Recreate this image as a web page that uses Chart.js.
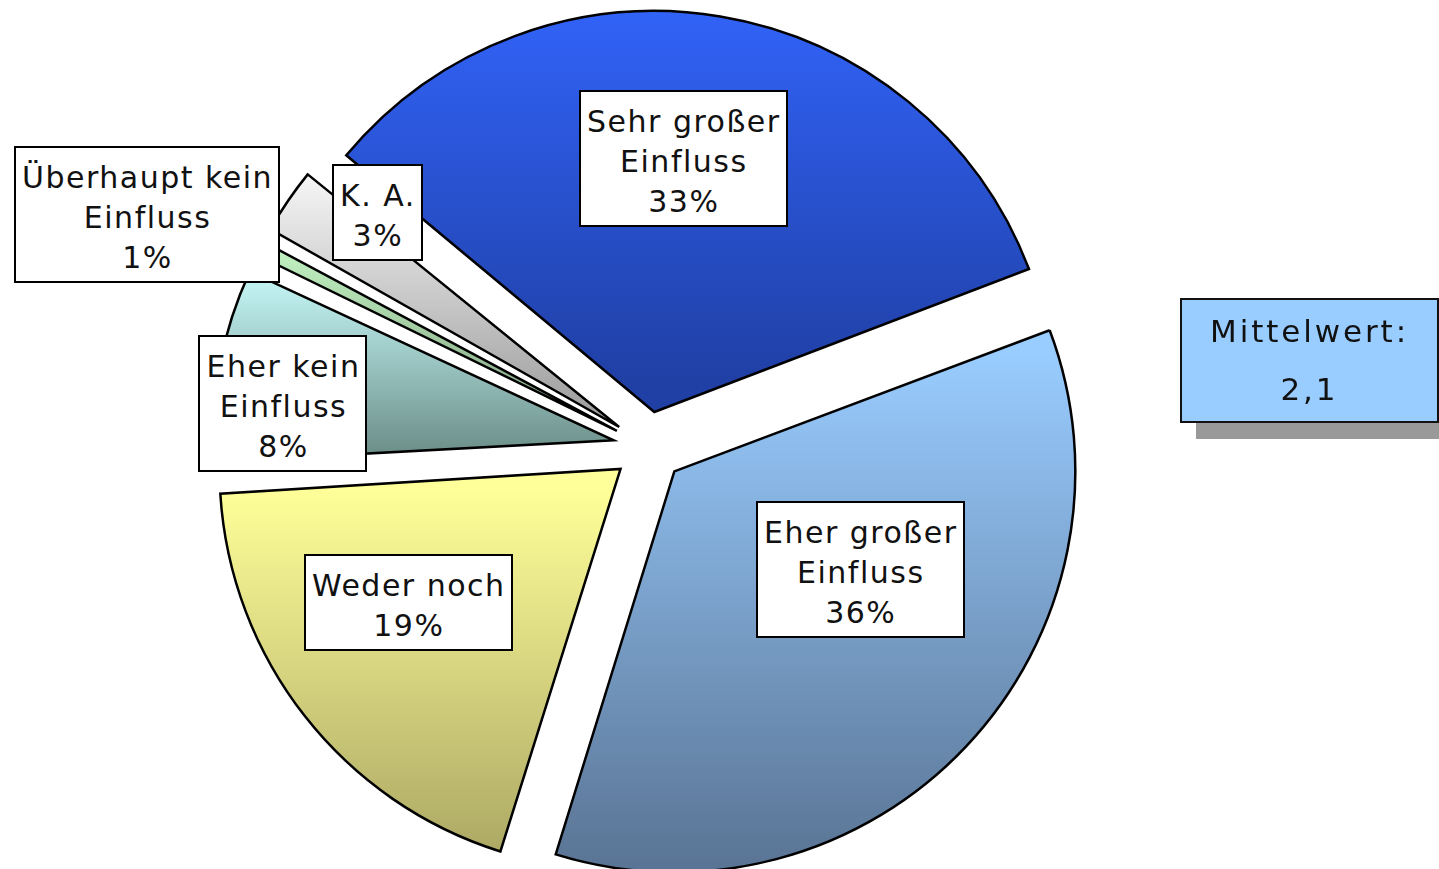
<!DOCTYPE html>
<html lang="de">
<head>
<meta charset="utf-8">
<title>Einfluss</title>
<script src="https://cdn.jsdelivr.net/npm/chart.js@4.4.1/dist/chart.umd.min.js"></script>
<style>
  html, body { margin: 0; padding: 0; background: #fff; overflow: hidden; }
  #wrap { position: relative; width: 1439px; height: 869px; }
  #wrap canvas { position: absolute; left: 0; top: 0; }
  .lbl {
    position: absolute; background: #fff; border: 2px solid #000;
    font-family: "DejaVu Sans", Verdana, sans-serif; font-size: 30px; line-height: 40px;
    letter-spacing: 1.5px; color: #111; text-align: center; padding: 10px 5px 3px 6px;
    white-space: nowrap; box-sizing: border-box;
  }
  #mean {
    position: absolute; left: 1180px; top: 298px; width: 259px; height: 125px;
    box-sizing: border-box; background: #99CCFF; border: 2px solid #111;
    box-shadow: 16px 16px 0 0 #999999;
    font-family: "DejaVu Sans", Verdana, sans-serif; font-size: 31px; line-height: 58px;
    letter-spacing: 2.9px; color: #111; text-align: center; padding-top: 2px;
  }
</style>
</head>
<body>
<div id="wrap"><canvas id="c" width="1439" height="869"></canvas></div>
<script>
// ---- data ----
const categories = ['Sehr großer Einfluss', 'Eher großer Einfluss', 'Weder noch', 'Eher kein Einfluss', 'Überhaupt kein Einfluss', 'K. A.'];
const labelLines = [['Sehr großer', 'Einfluss'], ['Eher großer', 'Einfluss'], ['Weder noch'], ['Eher kein', 'Einfluss'], ['Überhaupt kein', 'Einfluss'], ['K. A.']];
const shares = [33.2, 35.6, 19.2, 8.0, 1.0, 3.0];     // slice sizes
const percentLabels = ['33%', '36%', '19%', '8%', '1%', '3%'];
const meanTitle = 'Mittelwert:';
const meanValue = '2,1';

// ---- style ----
const gradientTop    = ['#3366FF', '#99CCFF', '#FFFF99', '#CCFFFF', '#CCFFCC', '#FFFFFF'];
const gradientBottom = ['#2040A6', '#566F8E', '#A8A462', '#6A8C86', '#84A484', '#A0A0A0'];
const PIE_RADIUS = 401;
const EXPLODE_PX = 35.5;
// label box centre, in multiples of the radius, relative to the pie centre
const labelAnchor = [[0.0873, -0.7195], [0.5287, 0.3067], [-0.5985, 0.389], [-0.9115, -0.1097], [-1.2506, -0.5798], [-0.6758, -0.5848]];

const wrap = document.getElementById('wrap');

function arcYExtent(arc, r, off) {
  const mid = (arc.startAngle + arc.endAngle) / 2;
  const cy = arc.y + Math.sin(mid) * off;
  const ys = [cy, cy + Math.sin(arc.startAngle) * r, cy + Math.sin(arc.endAngle) * r];
  for (let k = -4; k <= 4; k++) {
    const a = Math.PI / 2 + k * Math.PI;
    if (a >= arc.startAngle && a <= arc.endAngle) ys.push(cy + Math.sin(a) * r);
  }
  return [Math.min(...ys), Math.max(...ys)];
}

const explodePlugin = {
  id: 'explodeFix',
  beforeDatasetsDraw(chart) {
    const meta = chart.getDatasetMeta(0);
    const R = meta.controller.outerRadius;
    const ctx = chart.ctx;
    meta.data.forEach((arc, i) => {
      const off = (arc.options.offset || 0) / 4;
      const fix = 1 - Math.sin(Math.min(Math.PI, arc.circumference));
      arc.outerRadius = R - off * fix;
      const [y0, y1] = arcYExtent(arc, R, off);
      const g = ctx.createLinearGradient(0, y0, 0, y1);
      g.addColorStop(0, gradientTop[i]);
      g.addColorStop(1, gradientBottom[i]);
      arc.options.backgroundColor = g;
    });
  },
  afterDraw(chart) {
    if (chart.$labelsDone) return;
    chart.$labelsDone = true;
    const meta = chart.getDatasetMeta(0);
    const R = meta.controller.outerRadius;
    meta.data.forEach((arc, i) => {
      const d = document.createElement('div');
      d.className = 'lbl';
      labelLines[i].concat([percentLabels[i]]).forEach((s, k) => {
        if (k) d.appendChild(document.createElement('br'));
        d.appendChild(document.createTextNode(s));
      });
      wrap.appendChild(d);
      const w = d.offsetWidth, h = d.offsetHeight;
      d.style.left = (arc.x + labelAnchor[i][0] * R - w / 2) + 'px';
      d.style.top = (arc.y + labelAnchor[i][1] * R - h / 2) + 'px';
    });
    const m = document.createElement('div');
    m.id = 'mean';
    m.appendChild(document.createTextNode(meanTitle));
    m.appendChild(document.createElement('br'));
    m.appendChild(document.createTextNode(meanValue));
    wrap.appendChild(m);
  }
};

new Chart(document.getElementById('c'), {
  type: 'pie',
  data: {
    labels: categories,
    datasets: [{
      data: shares,
      backgroundColor: (c) => gradientTop[c.dataIndex],
      borderColor: '#000',
      borderWidth: 2.5,
      borderJoinStyle: 'miter',
      offset: EXPLODE_PX * 4,
      hoverOffset: 0
    }]
  },
  options: {
    responsive: false,
    animation: false,
    rotation: -50.3,
    radius: PIE_RADIUS,
    layout: { padding: { left: 0, right: 142, top: 25, bottom: 0 } },
    events: [],
    plugins: { legend: { display: false }, tooltip: { enabled: false } }
  },
  plugins: [explodePlugin]
});
</script>
</body>
</html>
